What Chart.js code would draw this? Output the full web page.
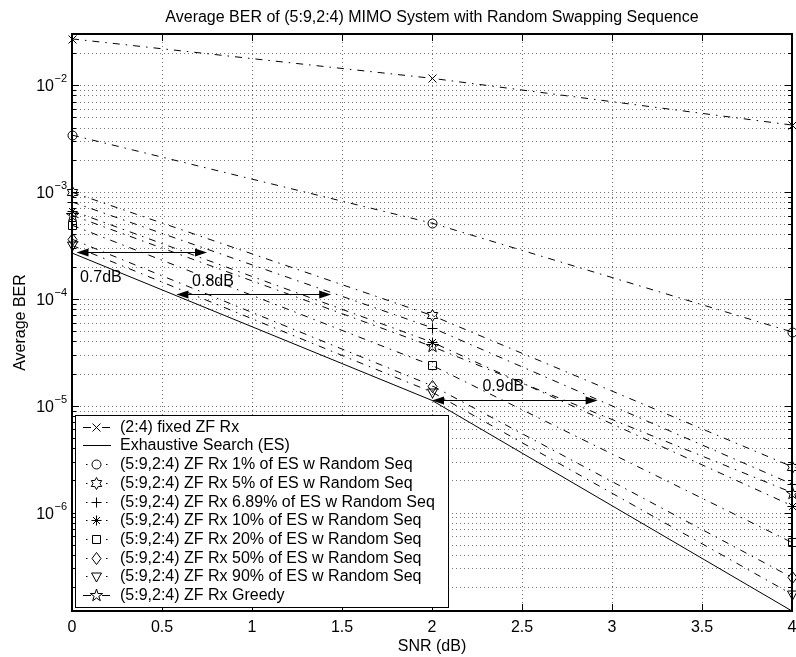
<!DOCTYPE html>
<html><head><meta charset="utf-8">
<script src="https://cdn.jsdelivr.net/npm/chart.js@4.4.1/dist/chart.umd.min.js"></script>
<style>html,body{margin:0;padding:0;background:#fff;}canvas{display:block;}</style>
</head><body>
<canvas id="c" width="796" height="657"></canvas>
<script>
// ---- data ----
const SNR_DB   = [0, 2, 4];
const FIXED_ZF = [2.70e-2, 1.155e-2, 4.22e-3];
const ES       = [2.68e-4, 1.12e-5, 1.2e-7];
const RS_1     = [3.40e-3, 5.1e-4, 4.9e-5];
const RS_5     = [9.93e-4, 6.98e-5, 2.69e-6];
const RS_689   = [8.05e-4, 5.36e-5, 1.85e-6];
const RS_10    = [6.67e-4, 3.93e-5, 1.16e-6];
const RS_20    = [4.88e-4, 2.38e-5, 5.25e-7];
const RS_50    = [3.61e-4, 1.54e-5, 2.47e-7];
const RS_90    = [3.16e-4, 1.34e-5, 1.72e-7];
const GREEDY   = [6.05e-4, 3.58e-5, 1.54e-6];

const SERIES_LABELS = [
  '(2:4) fixed ZF Rx',
  'Exhaustive Search (ES)',
  '(5:9,2:4) ZF Rx 1% of ES w Random Seq',
  '(5:9,2:4) ZF Rx 5% of ES w Random Seq',
  '(5:9,2:4) ZF Rx 6.89% of ES w Random Seq',
  '(5:9,2:4) ZF Rx 10% of ES w Random Seq',
  '(5:9,2:4) ZF Rx 20% of ES w Random Seq',
  '(5:9,2:4) ZF Rx 50% of ES w Random Seq',
  '(5:9,2:4) ZF Rx 90% of ES w Random Seq',
  '(5:9,2:4) ZF Rx Greedy'
];
const SERIES_VALUES = [FIXED_ZF, ES, RS_1, RS_5, RS_689, RS_10, RS_20, RS_50, RS_90, GREEDY];
const SERIES_MARKERS = ['x', null, 'o', 'h', '+', '*', 's', 'd', 'v', 'p'];

const X_TICKS = [0, 0.5, 1, 1.5, 2, 2.5, 3, 3.5, 4];
const X_TICK_LABELS = ['0', '0.5', '1', '1.5', '2', '2.5', '3', '3.5', '4'];
const Y_MAJOR = [1e-6, 1e-5, 1e-4, 1e-3, 1e-2];
const Y_MAJOR_EXP = ['\u22126', '\u22125', '\u22124', '\u22123', '\u22122'];
const Y_MIN = 1.2e-7, Y_MAX = 3e-2;

const TITLE = 'Average BER of (5:9,2:4) MIMO System with Random Swapping Sequence';
const X_TITLE = 'SNR (dB)';
const Y_TITLE = 'Average BER';

// annotations: double arrows [x1, x2, y] and labels [text, x, y]
const ARROWS = [[0.025, 0.75, 2.72e-4], [0.58, 1.44, 1.12e-4], [2.0, 2.92, 1.12e-5]];
const ARROW_LABELS = [['0.7dB', 0.044, 1.57e-4], ['0.8dB', 0.667, 1.45e-4], ['0.9dB', 2.28, 1.51e-5]];

// ---- styling ----
const FONT = '"Liberation Sans", Arial, Helvetica, sans-serif';
const DASHDOT = [7, 6, 1.5, 6];

function starPath(g, n, R, r, cx, cy) {
  for (let i = 0; i < 2 * n; i++) {
    const a = -Math.PI / 2 + i * Math.PI / n;
    const rr = i % 2 ? r : R;
    const px = cx + rr * Math.cos(a), py = cy + rr * Math.sin(a);
    if (i) g.lineTo(px, py); else g.moveTo(px, py);
  }
  g.closePath();
}
function drawMarker(g, t, cx, cy) {
  g.save();
  g.setLineDash([]);
  g.strokeStyle = '#000'; g.lineWidth = 1;
  g.beginPath();
  switch (t) {
    case 'x': g.moveTo(cx-4,cy-4); g.lineTo(cx+4,cy+4); g.moveTo(cx-4,cy+4); g.lineTo(cx+4,cy-4); break;
    case 'o': g.arc(cx, cy, 4.5, 0, 2 * Math.PI); break;
    case '+': g.moveTo(cx-5,cy); g.lineTo(cx+5,cy); g.moveTo(cx,cy-5); g.lineTo(cx,cy+5); break;
    case '*': g.moveTo(cx-5,cy); g.lineTo(cx+5,cy); g.moveTo(cx,cy-5); g.lineTo(cx,cy+5);
              g.moveTo(cx-3.5,cy-3.5); g.lineTo(cx+3.5,cy+3.5); g.moveTo(cx-3.5,cy+3.5); g.lineTo(cx+3.5,cy-3.5); break;
    case 's': g.rect(cx-4, cy-4, 8, 8); break;
    case 'd': g.moveTo(cx,cy-6); g.lineTo(cx+4.5,cy); g.lineTo(cx,cy+6); g.lineTo(cx-4.5,cy); g.closePath(); break;
    case 'v': g.moveTo(cx-5,cy-3.5); g.lineTo(cx+5,cy-3.5); g.lineTo(cx,cy+5.5); g.closePath(); break;
    case 'h': starPath(g, 6, 6, 6 / Math.sqrt(3), cx, cy); break;
    case 'p': starPath(g, 5, 6.5, 6.5 * 0.382, cx, cy); break;
  }
  g.stroke();
  g.restore();
}

const datasets = SERIES_VALUES.map((vals, k) => ({
  label: SERIES_LABELS[k],
  data: SNR_DB.map((x, i) => ({ x: x, y: vals[i] })),
  borderColor: '#000',
  backgroundColor: '#000',
  borderWidth: 1,
  borderDash: k === 1 ? [] : DASHDOT,
  pointRadius: 0,
  pointHoverRadius: 0,
  fill: false,
  tension: 0,
  clip: false
}));

// minor log ticks for the grid
const Y_ALL = [];
for (let e = -7; e <= -2; e++) for (let m = 1; m <= 9; m++) {
  const v = m * Math.pow(10, e);
  if (v > Y_MIN * 1.0001 && v < Y_MAX * 0.9999) Y_ALL.push(v);
}

const matlabPlugin = {
  id: 'matlab',
  beforeDraw(chart) {
    const ctx = chart.ctx;
    ctx.save(); ctx.fillStyle = '#fff'; ctx.fillRect(0, 0, chart.width, chart.height); ctx.restore();
  },
  beforeDatasetsDraw(chart) {
    const { ctx, chartArea: a, scales: { x, y } } = chart;
    ctx.save();
    ctx.lineWidth = 1;
    ctx.setLineDash([1, 3]);
    ctx.strokeStyle = 'rgba(0,0,0,0.55)';
    X_TICKS.forEach(v => {
      if (v <= 0 || v >= 4) return;
      const px = Math.round(x.getPixelForValue(v)) + 0.5;
      ctx.beginPath(); ctx.moveTo(px, a.top); ctx.lineTo(px, a.bottom); ctx.stroke();
    });
    Y_ALL.forEach(v => {
      const py = Math.round(y.getPixelForValue(v)) + 0.5;
      ctx.beginPath(); ctx.moveTo(a.left, py); ctx.lineTo(a.right, py); ctx.stroke();
    });
    ctx.restore();
  },
  afterDatasetsDraw(chart) {
    const { ctx, chartArea: a, scales: { x, y } } = chart;
    ctx.save();
    // markers at the library-computed point positions
    chart.data.datasets.forEach((ds, k) => {
      const m = SERIES_MARKERS[k];
      if (!m) return;
      chart.getDatasetMeta(k).data.forEach(el => {
        drawMarker(ctx, m, Math.round(el.x) + 0.5, Math.round(el.y) + 0.5);
      });
    });
    ctx.strokeStyle = '#000'; ctx.setLineDash([]);
    const L = Math.round(a.left), R = Math.round(a.right);
    const T = Math.round(a.top), B = Math.round(a.bottom);
    ctx.lineWidth = 2;
    ctx.strokeRect(L, T, R - L, B - T);
    ctx.lineWidth = 1;
    // inner ticks
    ctx.beginPath();
    X_TICKS.forEach(v => {
      const px = Math.round(x.getPixelForValue(v)) + 0.5;
      ctx.moveTo(px, B); ctx.lineTo(px, B - 7);
      ctx.moveTo(px, T); ctx.lineTo(px, T + 7);
    });
    Y_ALL.forEach(v => {
      const py = Math.round(y.getPixelForValue(v)) + 0.5;
      const major = Y_MAJOR.some(mv => Math.abs(mv - v) / mv < 1e-6);
      const len = major ? 7 : 4;
      ctx.moveTo(L, py); ctx.lineTo(L + len, py);
      ctx.moveTo(R, py); ctx.lineTo(R - len, py);
    });
    ctx.stroke();
    // annotations
    ctx.fillStyle = '#000';
    ARROWS.forEach(([x1, x2, yv]) => {
      const p1 = x.getPixelForValue(x1), p2 = x.getPixelForValue(x2);
      const py = Math.round(y.getPixelForValue(yv)) + 0.5;
      ctx.beginPath(); ctx.moveTo(p1 + 4, py); ctx.lineTo(p2 - 4, py); ctx.stroke();
      ctx.beginPath(); ctx.moveTo(p1, py); ctx.lineTo(p1 + 12, py - 4); ctx.lineTo(p1 + 12, py + 4); ctx.closePath(); ctx.fill();
      ctx.beginPath(); ctx.moveTo(p2, py); ctx.lineTo(p2 - 12, py - 4); ctx.lineTo(p2 - 12, py + 4); ctx.closePath(); ctx.fill();
    });
    ctx.font = '16px ' + FONT; ctx.textAlign = 'left'; ctx.textBaseline = 'middle';
    ARROW_LABELS.forEach(([t, xv, yv]) => {
      ctx.fillText(t, x.getPixelForValue(xv), y.getPixelForValue(yv));
    });
    ctx.restore();
  },
  afterDraw(chart) {
    const { ctx, chartArea: a, scales: { x, y } } = chart;
    ctx.save();
    ctx.fillStyle = '#000';
    // title
    ctx.font = '16px ' + FONT; ctx.textAlign = 'center'; ctx.textBaseline = 'alphabetic';
    ctx.fillText(TITLE, (a.left + a.right) / 2, 21.5);
    // x tick labels
    X_TICKS.forEach((v, i) => ctx.fillText(X_TICK_LABELS[i], x.getPixelForValue(v), 632));
    ctx.fillText(X_TITLE, (a.left + a.right) / 2, 651);
    // y tick labels 10^n
    Y_MAJOR.forEach((v, i) => {
      const py = y.getPixelForValue(v);
      ctx.font = '11px ' + FONT; ctx.textAlign = 'left';
      const ew = ctx.measureText(Y_MAJOR_EXP[i]).width;
      const xe = a.left - 5 - ew;
      ctx.fillText(Y_MAJOR_EXP[i], xe, py - 3);
      ctx.font = '16px ' + FONT; ctx.textAlign = 'right';
      ctx.fillText('10', xe - 0.5, py + 6);
    });
    // y title
    ctx.save();
    ctx.translate(25, (a.top + a.bottom) / 2);
    ctx.rotate(-Math.PI / 2);
    ctx.font = '16px ' + FONT; ctx.textAlign = 'center'; ctx.textBaseline = 'alphabetic';
    ctx.fillText(Y_TITLE, 0, 0);
    ctx.restore();
    // legend
    ctx.font = '16px ' + FONT;
    const lx = 75, ly = 415, rowH = 18.7, row0 = 426.7, tx = 120;
    let maxW = 0;
    SERIES_LABELS.forEach(t => { maxW = Math.max(maxW, ctx.measureText(t).width); });
    const lw = Math.round(tx - lx + maxW + 13), lh = 192;
    ctx.fillStyle = '#fff';
    ctx.fillRect(lx, ly, lw, lh);
    ctx.strokeStyle = '#000'; ctx.lineWidth = 1; ctx.setLineDash([]);
    ctx.strokeRect(lx + 0.5, ly + 0.5, lw, lh);
    ctx.fillStyle = '#000';
    SERIES_LABELS.forEach((t, k) => {
      const cy = Math.round(row0 + k * rowH) + 0.5;
      ctx.beginPath();
      if (k === 1) { ctx.moveTo(83, cy); ctx.lineTo(111, cy); ctx.stroke(); }
      else if (k === 0 || k === 9) {
        ctx.moveTo(83, cy); ctx.lineTo(91, cy); ctx.moveTo(102, cy); ctx.lineTo(110, cy); ctx.stroke();
      } else {
        ctx.fillRect(86, cy - 0.5, 1.5, 1); ctx.fillRect(106, cy - 0.5, 1.5, 1);
      }
      if (SERIES_MARKERS[k]) drawMarker(ctx, SERIES_MARKERS[k], 96.5, cy);
      ctx.textAlign = 'left'; ctx.textBaseline = 'middle';
      ctx.fillText(t, tx, cy + 0.5);
    });
    ctx.restore();
  }
};

new Chart(document.getElementById('c'), {
  type: 'line',
  data: { datasets: datasets },
  options: {
    responsive: false,
    animation: false,
    devicePixelRatio: 1,
    events: [],
    layout: { padding: { top: 34, right: 4, bottom: 0, left: 0 } },
    plugins: { legend: { display: false }, tooltip: { enabled: false }, title: { display: false } },
    scales: {
      x: { type: 'linear', min: 0, max: 4,
           grid: { display: false }, border: { display: false }, ticks: { display: false },
           afterFit: s => { s.height = 46; } },
      y: { type: 'logarithmic', min: Y_MIN, max: Y_MAX,
           grid: { display: false }, border: { display: false }, ticks: { display: false },
           afterFit: s => { s.width = 72; } }
    }
  },
  plugins: [matlabPlugin]
});
</script>
</body></html>
